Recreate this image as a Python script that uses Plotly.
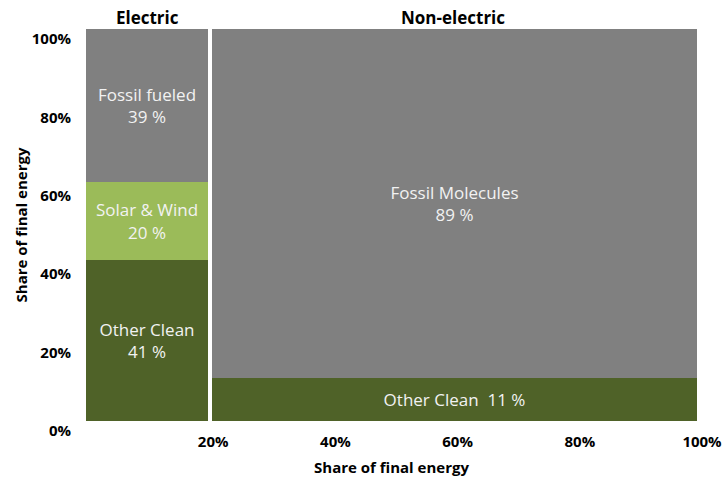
import plotly.graph_objects as go

# Data
groups = ["Electric", "Non-electric"]
group_widths = [20, 80]             # share of final energy (%)
other_clean = [41, 11]
solar_wind = [20, 0]
fossil = [39, 89]
fossil_names = ["Fossil fueled", "Fossil Molecules"]
x_ticks = [20, 40, 60, 80, 100]
y_ticks = [0, 20, 40, 60, 80, 100]

# Geometry of the mekko columns
lefts = [sum(group_widths[:i]) for i in range(len(group_widths))]
gap = 0.7
offsets = [0 if i == 0 else gap for i in range(len(group_widths))]
widths = [w if i == 0 else w - gap for i, w in enumerate(group_widths)]

FONT = "Open Sans, Liberation Sans, sans-serif"
txt_font = dict(family=FONT, size=17, color="#f2f2f2")

fig = go.Figure()

def add(vals, color, texts, name):
    fig.add_trace(go.Bar(
        x=lefts, y=vals, width=widths, offset=offsets, name=name,
        marker=dict(color=color, line=dict(width=0)),
        text=texts, textposition="inside", insidetextanchor="middle",
        textfont=txt_font, textangle=0, hoverinfo="skip", showlegend=False,
        cliponaxis=False,
    ))

add(other_clean, "#4f6228",
    [f"Other Clean<br>{other_clean[0]} %", f"Other Clean  {other_clean[1]} %"], "Other Clean")
add(solar_wind, "#9bbb59",
    [f"Solar & Wind<br>{solar_wind[0]} %", ""], "Solar & Wind")
add(fossil, "#808080",
    [f"{fossil_names[i]}<br>{fossil[i]} %" for i in range(2)], "Fossil")

for i, g in enumerate(groups):
    fig.add_annotation(x=lefts[i] + group_widths[i] / 2, y=1.0, xref="x", yref="paper",
                       text=f"<b>{g}</b>", showarrow=False, yanchor="bottom", yshift=-2,
                       font=dict(family=FONT, size=17, color="black"))

axis_font = dict(family=FONT, size=15, color="black")
title_font = dict(family=FONT, size=15, color="black")
fig.update_layout(
    width=726, height=487,
    margin=dict(l=86, r=29, t=29, b=66),
    barmode="stack", bargap=0,
    plot_bgcolor="white", paper_bgcolor="white",
    uniformtext=dict(mode=False),
    xaxis=dict(range=[0, 100], tickvals=x_ticks,
               ticktext=[f"<b>{v}%</b>" for v in x_ticks],
               showgrid=False, zeroline=False, showline=False, ticks="",
               tickfont=axis_font, ticklabelstandoff=10, ticklabelshift=5,
               automargin=False,
               title=dict(text="<b>Share of final energy</b>", font=title_font, standoff=12)),
    yaxis=dict(range=[0, 100], tickvals=y_ticks,
               ticktext=[f"<b>{v}%</b>" for v in y_ticks],
               showgrid=False, zeroline=False, showline=False, ticks="",
               tickfont=axis_font, ticklabelstandoff=14, ticklabelshift=10,
               automargin=False,
               title=dict(text="<b>Share of final energy</b>", font=title_font, standoff=0)),
)

fig.write_html("out.html")
